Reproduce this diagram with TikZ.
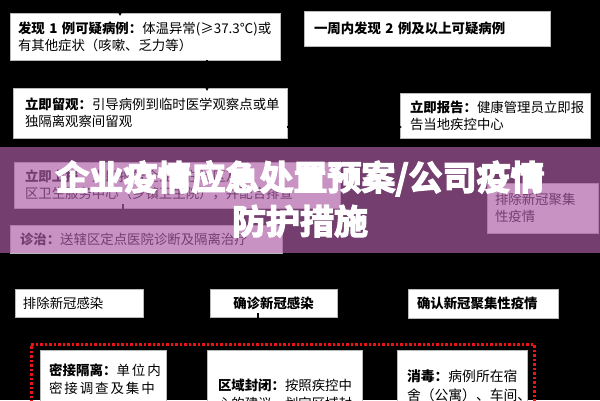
\documentclass[tikz,border=0pt]{standalone}
\usepackage{fontspec}
\setmainfont{Noto Sans CJK SC}
\usetikzlibrary{arrows.meta}
\definecolor{tint}{RGB}{173,94,167}
\definecolor{dotred}{RGB}{235,20,20}
\newfontfamily\titlefont[FakeBold=4]{Noto Sans CJK SC Bold}
\begin{document}
\begin{tikzpicture}[x=1pt,y=-1pt,
  box/.style={draw=gray!55, line width=0.8pt, fill=white, text=black, anchor=north west,
    align=left, inner ysep=0pt, outer sep=0pt},
  txt/.style={font=\fontsize{13.4}{17}\selectfont},
  txtb/.style={font=\fontsize{13.4}{17}\selectfont\bfseries},
  conn/.style={draw=black, line width=1.2pt, -{Triangle[length=5pt,width=5pt]}},
  link/.style={draw=black, line width=1.5pt},
  zonebox/.style={draw=dotred, line width=2.5pt, dash pattern=on 2.5pt off 2pt, anchor=north west, inner sep=0pt},
  titletext/.style={font=\titlefont\fontsize{34}{44}\selectfont, text=white, align=center},
]
\clip (0,0) rectangle (600,400);
\fill[black] (0,0) rectangle (600,400);

% top rows
\node[box, txt, minimum width=270pt, minimum height=47pt, text width=254pt, inner xsep=8pt] (b1) at (10,13)
  {\textbf{发现~1~例可疑病例：}体温异常(≥37.3℃)或\\有其他症状（咳嗽、乏力等）};
\node[box, txtb, minimum width=246pt, minimum height=35pt, text width=226pt, inner xsep=10pt] (b2) at (304,11)
  {一周内发现~2~例及以上可疑病例};
\node[box, txt, minimum width=274pt, minimum height=50pt, text width=250pt, inner xsep=12pt] (b3) at (13,88)
  {\textbf{立即留观：}引导病例到临时医学观察点或单\\独隔离观察间留观};
\node[box, txt, minimum width=190pt, minimum height=45pt, text width=170pt, inner xsep=10pt] (b4) at (400,93)
  {\textbf{立即报告：}健康管理员立即报\\告当地疾控中心};

% boxes under the banner
\node[box, txt, minimum width=326pt, minimum height=46pt, text width=304pt, inner xsep=11pt] (lb1) at (14,162)
  {\textbf{立即上报：}立即报告企业所在社区及辖\\区卫生服务中心（乡镇卫生院），并配合排查};
\node[box, txt, minimum width=272pt, minimum height=28pt, text width=252pt, inner xsep=10pt] (lb2) at (10,225)
  {\textbf{诊治：}送辖区定点医院诊断及隔离治疗};
\node[box, txt, minimum width=111pt, minimum height=50pt, text width=95pt, inner xsep=8pt] (lb3) at (487,183)
  {排除新冠聚集\\性疫情};

% connectors (black on black)
\coordinate (in1) at (120,0);
\draw[conn, shorten >=-3pt] (in1) -- (in1 |- b1.north);
\draw[conn, shorten >=-3pt] (b1.south -| 207,0) -- (b3.north -| 207,0);
\draw[conn, shorten >=-2pt] (b3.east |- 0,127) -- (b4.west |- 0,127);
\draw[conn, shorten <=-4pt] (lb1.south -| 123,0) -- (lb2.north -| 123,0);

% banner overlay
\fill[tint, fill opacity=0.67] (0,147) rectangle (600,253);
\node[titletext] (title) at (300,199) {企业疫情应急处置预案/公司疫情\\防护措施};

% bottom rows
\node[box, txt, minimum width=128pt, minimum height=28pt, text width=112pt, inner xsep=8pt] (b5) at (15,289)
  {排除新冠感染};
\node[box, txtb, minimum width=127pt, minimum height=28pt, text width=111pt, inner xsep=8pt, align=center] (b6) at (210,289)
  {确诊新冠感染};
\node[box, txtb, minimum width=150pt, minimum height=29pt, text width=132pt, inner xsep=9pt] (b7) at (408,289)
  {确认新冠聚集性疫情};

\node[zonebox, minimum width=503pt, minimum height=90pt] (zone) at (30,343) {};
\draw[link, shorten <=-4pt] (b6.south -| 258,0) -- (zone.north -| 258,0);

\node[box, font=\fontsize{13.5}{18}\selectfont, minimum width=126pt, minimum height=58pt, text width=108pt, inner xsep=9pt] (b8) at (40,350)
  {\textbf{密接隔离：}{\addfontfeatures{LetterSpace=14}单位内}\\{\addfontfeatures{LetterSpace=14}密接调查及集中}};
\node[box, font=\fontsize{13.4}{18}\selectfont, minimum width=155pt, minimum height=88pt, text width=133pt, inner xsep=11pt] (b9) at (207,350)
  {\textbf{区域封闭：}按照疾控中\\心的建议，划定区域封};
\node[box, font=\fontsize{13.8}{19}\selectfont, minimum width=130pt, minimum height=71pt, text width=110pt, inner xsep=10pt] (b10) at (397,350)
  {\textbf{消毒：}病例所在宿\\舍（公寓）、车间、};
\end{tikzpicture}
\end{document}
